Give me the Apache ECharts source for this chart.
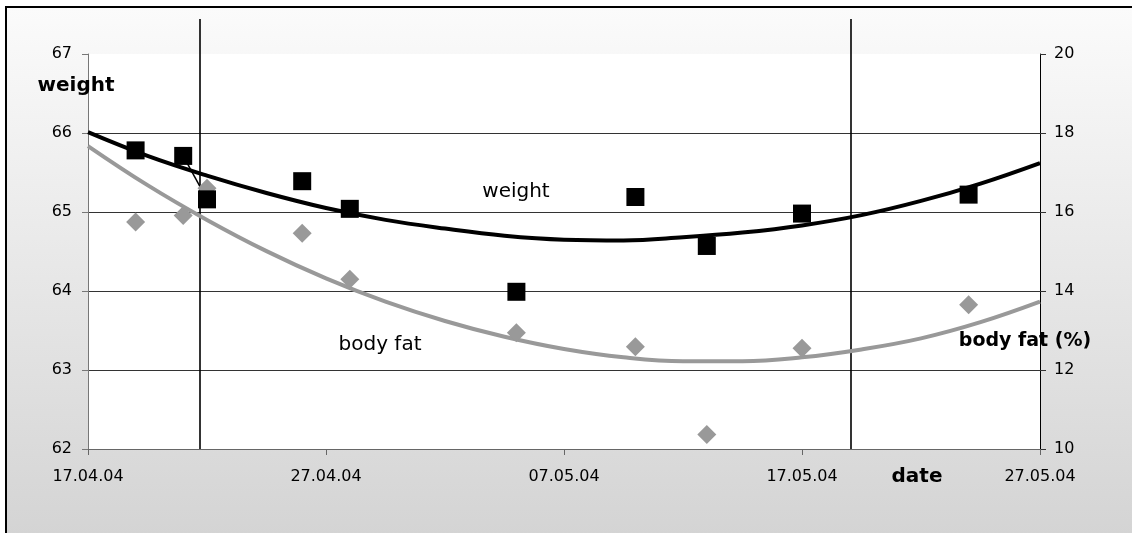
<!DOCTYPE html>
<html>
<head>
<meta charset="utf-8">
<script src="https://cdn.jsdelivr.net/npm/echarts@6/dist/echarts.min.js"></script>
<style>
  html, body { margin: 0; padding: 0; background: #ffffff; }
  #wrap { position: relative; width: 1132px; height: 533px; overflow: hidden; }
  #bg { position: absolute; left: 5px; top: 6px; width: 1140px; height: 540px;
        border-left: 2px solid #000; border-top: 2px solid #000;
        background: linear-gradient(to bottom, #fbfbfb 0px, #d4d4d4 527px); }
  #chart { position: absolute; left: 0; top: 0; width: 1132px; height: 533px; }
</style>
</head>
<body>
<div id="wrap">
  <div id="bg"></div>
  <div id="chart"></div>
</div>
<script>
// ---- data ----
const xTickLabels = ['17.04.04', '27.04.04', '07.05.04', '17.05.04', '27.05.04'];
const measureDates = ['19.04.04', '21.04.04', '22.04.04', '26.04.04', '28.04.04', '05.05.04', '10.05.04', '13.05.04', '17.05.04', '24.05.04'];
const weightKg   = [65.78, 65.71, 65.16, 65.39, 65.04, 63.99, 65.19, 64.57, 64.98, 65.22];
const bodyFatPct = [15.75, 15.91, 16.6, 15.46, 14.30, 12.94, 12.59, 10.37, 12.55, 13.65];
// trend curves, read every 2.5 days (days after 17.04.04)
const trendDays   = [0, 2.5, 5, 7.5, 10, 12.5, 15, 17.5, 20, 22.5, 25, 27.5, 30, 32.5, 35, 37.5, 40];
const weightTrend = [66.01, 65.71, 65.46, 65.24, 65.05, 64.90, 64.79, 64.70, 64.65, 64.64, 64.68, 64.74, 64.83, 64.96, 65.14, 65.36, 65.62];
const fatTrend    = [17.67, 16.68, 15.80, 15.01, 14.32, 13.73, 13.24, 12.84, 12.53, 12.32, 12.22, 12.22, 12.32, 12.52, 12.80, 13.21, 13.73];
const markerLineDays = [4.68, 32.05]; // days after 17.04.04

// ---- helpers ----
function toDay(s) {
  const p = s.split('.');
  const t = Date.UTC(2000 + (+p[2]), (+p[1]) - 1, +p[0]);
  const t0 = Date.UTC(2004, 3, 17);
  return (t - t0) / 86400000;
}
const mDays = measureDates.map(toDay);
const weightPts = mDays.map((d, i) => [d, weightKg[i]]);
const fatPts = mDays.map((d, i) => [d, bodyFatPct[i]]);
const weightTrendPts = trendDays.map((d, i) => [d, weightTrend[i]]);
const fatTrendPts = trendDays.map((d, i) => [d, fatTrend[i]]);
const connectorPts = weightPts.slice(1, 3);

const FONT = 'DejaVu Sans';
const chart = echarts.init(document.getElementById('chart'), null, { renderer: 'canvas' });

const option = {
  backgroundColor: 'transparent',
  animation: false,
  textStyle: { fontFamily: FONT },
  grid: [
    { left: 88, right: 92, top: 54, bottom: 84, show: true, backgroundColor: '#ffffff', borderWidth: 0 },
    { left: 88, right: 92, top: 19, bottom: 84, show: false }
  ],
  xAxis: [
    {
      type: 'value', gridIndex: 0, min: 0, max: 40, interval: 10,
      axisLine: { show: true, onZero: false, lineStyle: { color: '#666666', width: 1 } },
      axisTick: { show: true, inside: false, length: 6, lineStyle: { color: '#666666' } },
      splitLine: { show: false },
      axisLabel: {
        show: true, margin: 20, color: '#000', fontFamily: FONT, fontSize: 16,
        showMinLabel: true, showMaxLabel: true,
        formatter: v => xTickLabels[Math.round(v / 10)]
      }
    },
    { type: 'value', gridIndex: 1, min: 0, max: 40, show: false }
  ],
  yAxis: [
    {
      type: 'value', gridIndex: 0, position: 'left', min: 62, max: 67, interval: 1,
      axisLine: { show: true, lineStyle: { color: '#777777', width: 1 } },
      axisTick: { show: true, inside: false, length: 6, lineStyle: { color: '#777777' } },
      splitLine: { show: true, showMinLine: false, showMaxLine: false, lineStyle: { color: '#333333', width: 1 } },
      axisLabel: { margin: 16, color: '#000', fontFamily: FONT, fontSize: 16 }
    },
    {
      type: 'value', gridIndex: 0, position: 'right', min: 10, max: 20, interval: 2,
      axisLine: { show: true, lineStyle: { color: '#000000', width: 1 } },
      axisTick: { show: true, inside: false, length: 6, lineStyle: { color: '#333333' } },
      splitLine: { show: false },
      axisLabel: { margin: 14, color: '#000', fontFamily: FONT, fontSize: 16 }
    },
    { type: 'value', gridIndex: 1, min: 0, max: 1, show: false }
  ],
  series: [
    {
      name: 'markers', type: 'line', xAxisIndex: 1, yAxisIndex: 2, data: [],
      silent: true,
      markLine: {
        z: 1, silent: true, symbol: ['none', 'none'], label: { show: false },
        lineStyle: { color: '#000000', width: 1.6, type: 'solid', opacity: 1 },
        emphasis: { disabled: true },
        data: markerLineDays.map(d => ({ xAxis: d }))
      }
    },
    {
      name: 'weight trend', type: 'line', xAxisIndex: 0, yAxisIndex: 0, z: 2,
      data: weightTrendPts, smooth: 0.4, showSymbol: false, silent: true,
      lineStyle: { color: '#000000', width: 4 }
    },
    {
      name: 'body fat trend', type: 'line', xAxisIndex: 0, yAxisIndex: 1, z: 2,
      data: fatTrendPts, smooth: 0.4, showSymbol: false, silent: true,
      lineStyle: { color: '#999999', width: 4 }
    },
    {
      name: 'connector', type: 'line', xAxisIndex: 0, yAxisIndex: 0, z: 2,
      data: connectorPts, showSymbol: false, silent: true,
      lineStyle: { color: '#000000', width: 1.5 }
    },
    {
      name: 'body fat', type: 'scatter', xAxisIndex: 0, yAxisIndex: 1, z: 3,
      data: fatPts, symbol: 'diamond', symbolSize: [19, 19],
      itemStyle: { color: '#999999', opacity: 1 }
    },
    {
      name: 'weight', type: 'scatter', xAxisIndex: 0, yAxisIndex: 0, z: 4,
      data: weightPts, symbol: 'rect', symbolSize: 18,
      itemStyle: { color: '#000000', opacity: 1 }
    }
  ],
  graphic: [
    { type: 'text', x: 76, y: 86, z: 10,
      style: { text: 'weight', font: 'bold 20px "DejaVu Sans"', fill: '#000', align: 'center', verticalAlign: 'middle' } },
    { type: 'text', x: 1025, y: 341, z: 10,
      style: { text: 'body fat (%)', font: 'bold 19px "DejaVu Sans"', fill: '#000', align: 'center', verticalAlign: 'middle' } },
    { type: 'text', x: 917, y: 477, z: 10,
      style: { text: 'date', font: 'bold 20px "DejaVu Sans"', fill: '#000', align: 'center', verticalAlign: 'middle' } },
    { type: 'text', x: 516, y: 192, z: 10,
      style: { text: 'weight', font: '20px "DejaVu Sans"', fill: '#000', align: 'center', verticalAlign: 'middle' } },
    { type: 'text', x: 380, y: 345, z: 10,
      style: { text: 'body fat', font: '20px "DejaVu Sans"', fill: '#000', align: 'center', verticalAlign: 'middle' } }
  ]
};
chart.setOption(option);
</script>
</body>
</html>
